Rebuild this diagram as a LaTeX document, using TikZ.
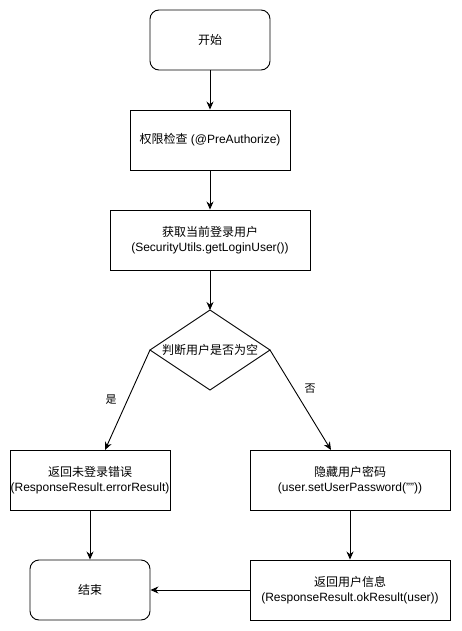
\documentclass[tikz,border=0pt]{standalone}
\usepackage{fontspec}
\setmainfont{Liberation Sans}
\newfontfamily\cjk{Noto Sans CJK SC}
\usetikzlibrary{arrows.meta,shapes.geometric}
\begin{document}
\begin{tikzpicture}[x=1pt,y=-1pt,
  every node/.style={font=\fontsize{12}{15}\selectfont, align=center, inner sep=0pt},
  proc/.style={draw, line width=0.9pt, minimum width=#1, minimum height=60pt},
  proc/.default=200pt,
  term/.style={draw, line width=0.9pt, rounded corners=9pt, minimum width=120pt, minimum height=60pt},
  dec/.style={draw, line width=0.9pt, diamond, minimum width=120pt, minimum height=80pt, aspect=1.5},
  conn/.style={line width=0.9pt, -{Stealth[length=8pt,width=7pt]}},
  lbl/.style={font=\fontsize{11}{13}\selectfont}
]
\useasboundingbox (0,0) rectangle (461,631);
\node[term] (start) at (210,40) {\cjk 开始};
\node[proc=160pt] (auth) at (210,140) {{\cjk 权限检查} (@PreAuthorize)};
\node[proc] (get) at (210,240) {{\cjk 获取当前登录用户}\\(SecurityUtils.getLoginUser())};
\coordinate (dtop) at (210,310);
\coordinate (dleft) at (150,350);
\coordinate (dright) at (270,350);
\coordinate (dbot) at (210,390);
\draw[line width=0.9pt] (dtop) -- (dright) -- (dbot) -- (dleft) -- cycle;
\node (dtext) at (210,350) {\cjk 判断用户是否为空};
\node[proc=160pt] (err) at (90,480) {{\cjk 返回未登录错误}\\(ResponseResult.errorResult)};
\node[proc] (hide) at (350,480) {{\cjk 隐藏用户密码}\\(user.setUserPassword(""))};
\node[term] (end) at (90,590) {\cjk 结束};
\node[proc] (ok) at (350,590) {{\cjk 返回用户信息}\\(ResponseResult.okResult(user))};
\coordinate (errtop) at (105,450);
\coordinate (hidetop) at (331,450);
\draw[conn] (start) -- (auth);
\draw[conn] (auth) -- (get);
\draw[conn] (get) -- (dtop);
\draw[conn] (dleft) -- (errtop);
\draw[conn] (dright) -- (hidetop);
\node[lbl] (yes) at (111,400) {\cjk 是};
\node[lbl] (no) at (310,389) {\cjk 否};
\draw[conn] (err) -- (end);
\draw[conn] (hide) -- (ok);
\draw[conn] (ok) -- (end);
\end{tikzpicture}
\end{document}
